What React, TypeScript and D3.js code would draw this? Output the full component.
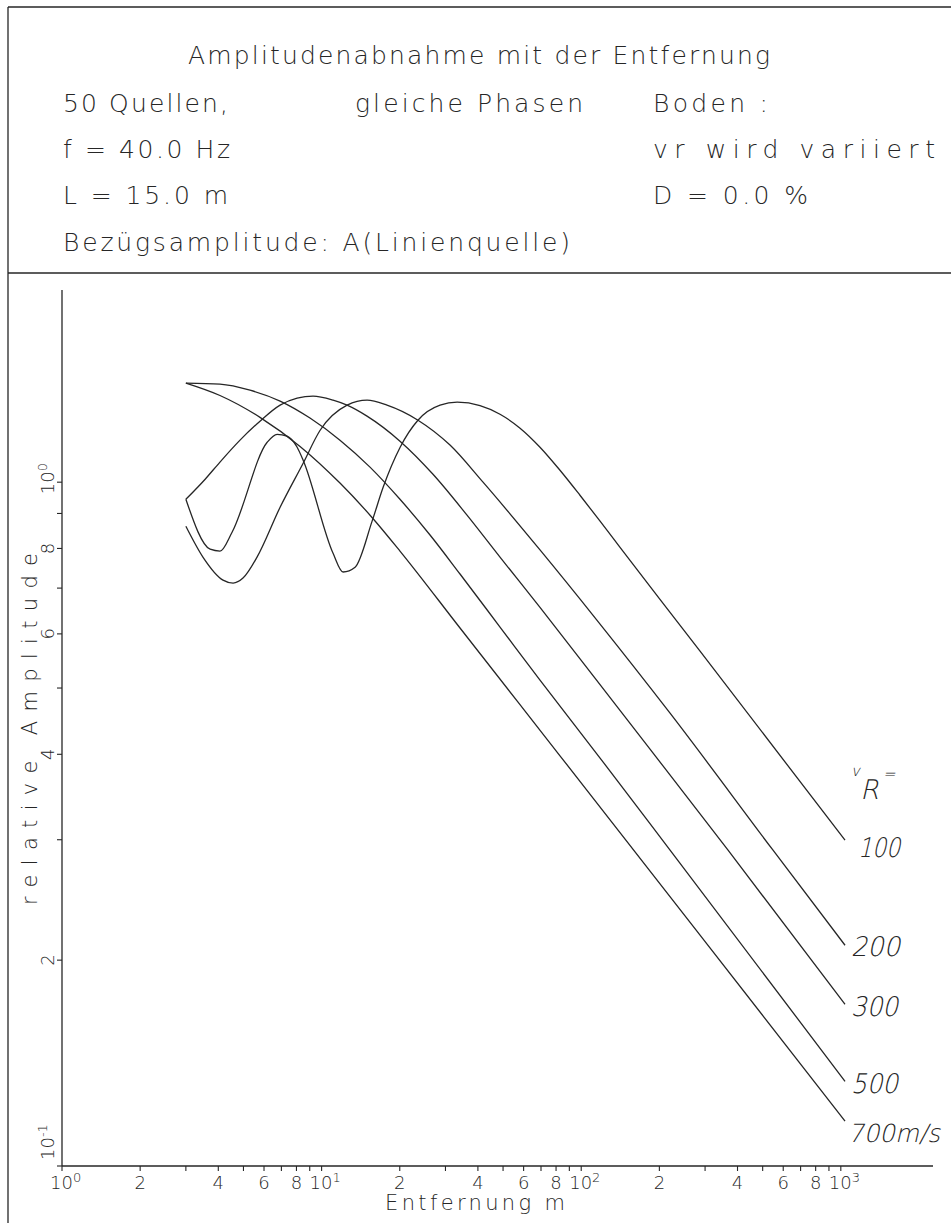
import React from "react";
import * as d3 from "d3";

// ---- data (distance in m, relative amplitude) ----
const velocities = ["100", "200", "300", "500", "700m/s"];

const dist100 = [3.0, 3.72, 4.06, 4.52, 6.17, 6.74, 7.36, 8.05, 8.49, 11.07, 12.1, 13.46, 15.65, 17.26, 20.07, 23.5, 28.6, 33.3, 40.76, 48.66, 58.13, 69.38, 82.84, 98.9, 118.2, 141.1, 201.1, 286.9, 1038];
const amp100 = [0.944, 0.798, 0.793, 0.845, 1.144, 1.175, 1.168, 1.125, 1.077, 0.787, 0.739, 0.751, 0.877, 0.983, 1.125, 1.232, 1.296, 1.309, 1.294, 1.257, 1.1995, 1.125, 1.041, 0.957, 0.877, 0.803, 0.674, 0.566, 0.2996];

const dist200 = [3.0, 3.49, 4.17, 4.56, 4.98, 5.64, 6.92, 8.49, 9.87, 12.54, 14.97, 17.86, 23.51, 31.23, 41.86, 69.38, 115.1, 219.9, 548.1, 1038];
const amp200 = [0.862, 0.777, 0.719, 0.712, 0.724, 0.777, 0.919, 1.066, 1.191, 1.296, 1.318, 1.296, 1.232, 1.133, 1.0, 0.796, 0.628, 0.4594, 0.2896, 0.2103];

const dist300 = [3.0, 3.56, 4.06, 4.85, 5.79, 6.92, 8.05, 9.27, 11.07, 12.53, 14.96, 20.04, 26.86, 36.32, 48.66, 69.38, 113.0, 184.1, 367.8, 1038];
const amp300 = [0.944, 1.01, 1.07, 1.152, 1.228, 1.296, 1.327, 1.336, 1.318, 1.296, 1.249, 1.148, 1.027, 0.895, 0.777, 0.656, 0.517, 0.407, 0.2896, 0.1724];

const dist500 = [3.0, 4.06, 5.30, 6.92, 9.02, 11.77, 15.36, 20.04, 26.16, 34.13, 48.66, 69.38, 118.2, 219.9, 1038];
const amp500 = [1.396, 1.391, 1.363, 1.314, 1.241, 1.152, 1.052, 0.944, 0.837, 0.734, 0.614, 0.5135, 0.395, 0.2896, 0.133];

const dist700 = [3.0, 4.06, 5.79, 8.26, 11.77, 15.64, 20.04, 34.13, 82.84, 286.9, 1038];
const amp700 = [1.396, 1.339, 1.244, 1.128, 0.997, 0.888, 0.793, 0.612, 0.398, 0.2176, 0.1163];

const xTickValues = [1, 2, 3, 4, 5, 6, 7, 8, 9, 10, 20, 30, 40, 50, 60, 70, 80, 90, 100, 200, 300, 400, 500, 600, 700, 800, 900, 1000];
const xLabelValues = [1, 2, 4, 6, 8, 10, 20, 40, 60, 80, 100, 200, 400, 600, 800, 1000];
const xLabelTexts = ["10^0", "2", "4", "6", "8", "10^1", "2", "4", "6", "8", "10^2", "2", "4", "6", "8", "10^3"];

const yTickValues = [0.1, 0.2, 0.3, 0.4, 0.5, 0.6, 0.7, 0.8, 0.9, 1.0];
const yLabelValues = [0.2, 0.4, 0.6, 0.8, 1.0];
const yLabelTexts = ["2", "4", "6", "8", "10^0"];

const headerLines = [
  { t: "Amplitudenabnahme mit der Entfernung", x: 188, y: 64, w: 582 },
  { t: "50 Quellen,", x: 63, y: 112, w: 165 },
  { t: "gleiche Phasen", x: 355, y: 112, w: 228 },
  { t: "Boden :", x: 653, y: 112, w: 115 },
  { t: "f = 40.0 Hz", x: 63, y: 158, w: 167 },
  { t: "vr wird variiert", x: 653, y: 158, w: 282 },
  { t: "L = 15.0 m", x: 63, y: 204, w: 165 },
  { t: "D = 0.0 %", x: 653, y: 204, w: 155 },
  { t: "Bezügsamplitude: A(Linienquelle)", x: 63, y: 251, w: 507 },
];

const curveLabelPos = [
  { x: 858, y: 857, w: 42, s: 27 },
  { x: 851, y: 956, w: 49, s: 27 },
  { x: 851, y: 1016, w: 47, s: 27 },
  { x: 851, y: 1093, w: 47, s: 27 },
  { x: 848, y: 1142, w: 92, s: 25 },
];

const INK = "#262626";
const FONT = "'DejaVu Sans', sans-serif";

function Pow({ text, x, y, anchor }: { text: string; x: number; y: number; anchor?: string }) {
  if (!text.includes("^")) {
    return (
      <text x={x} y={y} textAnchor={anchor || "middle"} fontSize={18} fontFamily={FONT} fontWeight={200} fill={INK}>
        {text}
      </text>
    );
  }
  const [b, e] = text.split("^");
  const startX = anchor === "start" ? x : x - 12;
  return (
    <text x={startX} y={y} fontSize={18} fontFamily={FONT} fontWeight={200} fill={INK}>
      {b}
      <tspan fontSize={13} dy={-7}>{e}</tspan>
    </text>
  );
}

function Slanted({ x, y, size, children, w }: { x: number; y: number; size: number; children: string; w?: number }) {
  return (
    <g transform={`translate(${x},${y}) skewX(-13)`}>
      <text
        x={0}
        y={0}
        fontSize={size}
        fontFamily={FONT}
        fontWeight={200}
        fill={INK}
        textLength={w}
        lengthAdjust={w ? "spacingAndGlyphs" : undefined}
      >
        {children}
      </text>
    </g>
  );
}

export default function App() {
  const W = 951, H = 1223;
  const x = d3.scaleLog().domain([1, 2265]).range([62, 933]);
  const y = d3.scaleLog().domain([0.1, 1.91]).range([1166, 290]);
  const line = d3
    .line<[number, number]>()
    .x((p) => x(p[0]))
    .y((p) => y(p[1]))
    .curve(d3.curveMonotoneX);

  const series = [
    { d: dist100, a: amp100 },
    { d: dist200, a: amp200 },
    { d: dist300, a: amp300 },
    { d: dist500, a: amp500 },
    { d: dist700, a: amp700 },
  ];

  const [x0, x1] = x.range();
  const [y0, y1] = y.range();

  return (
    <svg
      width={W}
      height={H}
      viewBox={`0 0 ${W} ${H}`}
      style={{ position: "absolute", left: 0, top: 0, background: "#fff" }}
    >
      <rect x={0} y={0} width={W} height={H} fill="#fff" />
      {/* frame */}
      <line x1={8} y1={7} x2={W} y2={7} stroke={INK} strokeWidth={1.3} />
      <line x1={8} y1={7} x2={8} y2={H} stroke={INK} strokeWidth={1.3} />
      <line x1={8} y1={273} x2={W} y2={273} stroke={INK} strokeWidth={1.3} />

      {/* header */}
      {headerLines.map((h, i) => (
        <text
          key={i}
          x={h.x}
          y={h.y}
          fontSize={25}
          fontFamily={FONT}
          fontWeight={200}
          fill={INK}
          textLength={h.w}
          lengthAdjust="spacing"
        >
          {h.t}
        </text>
      ))}

      {/* axes */}
      <line x1={x0} y1={y0} x2={x1} y2={y0} stroke={INK} strokeWidth={1.3} />
      <line x1={x0} y1={y0} x2={x0} y2={y1} stroke={INK} strokeWidth={1.3} />
      {xTickValues.map((v, i) => (
        <line key={"xt" + i} x1={x(v)} x2={x(v)} y1={y0} y2={y0 + 5} stroke={INK} strokeWidth={1.1} />
      ))}
      {yTickValues.map((v, i) => (
        <line key={"yt" + i} x1={x0 - 5} x2={x0} y1={y(v)} y2={y(v)} stroke={INK} strokeWidth={1.1} />
      ))}
      {xLabelValues.map((v, i) => (
        <Pow key={"xl" + i} text={xLabelTexts[i]} x={x(v)} y={y0 + 23} />
      ))}
      {yLabelValues.map((v, i) => (
        <g key={"yl" + i} transform={`translate(${x0 - 8},${y(v)}) rotate(-90)`}>
          <Pow text={yLabelTexts[i]} x={0} y={0} />
        </g>
      ))}
      <g transform={`translate(${x0 - 8},${y0}) rotate(-90)`}>
        <Pow text={"10^-1"} x={6} y={0} anchor="start" />
      </g>

      {/* axis titles */}
      <text x={385} y={1210} fontSize={21} fontFamily={FONT} fontWeight={200} fill={INK} textLength={180} lengthAdjust="spacing">
        Entfernung  m
      </text>
      <g transform={`translate(37,729) rotate(-90)`}>
        <text x={0} y={0} textAnchor="middle" fontSize={21} fontFamily={FONT} fontWeight={200} fill={INK} textLength={352} lengthAdjust="spacing">
          relative Amplitude
        </text>
      </g>

      {/* curves */}
      {series.map((s, i) => (
        <path
          key={"c" + i}
          d={line(s.d.map((dv, j) => [dv, s.a[j]] as [number, number])) || ""}
          fill="none"
          stroke={INK}
          strokeWidth={1.3}
          strokeLinejoin="round"
        />
      ))}

      {/* legend labels */}
      <Slanted x={851} y={776} size={15}>v</Slanted>
      <Slanted x={860} y={799} size={27}>R</Slanted>
      <Slanted x={883} y={779} size={15}>=</Slanted>
      {velocities.map((t, i) => (
        <Slanted key={"vl" + i} x={curveLabelPos[i].x} y={curveLabelPos[i].y} size={curveLabelPos[i].s} w={curveLabelPos[i].w}>
          {t}
        </Slanted>
      ))}
    </svg>
  );
}
